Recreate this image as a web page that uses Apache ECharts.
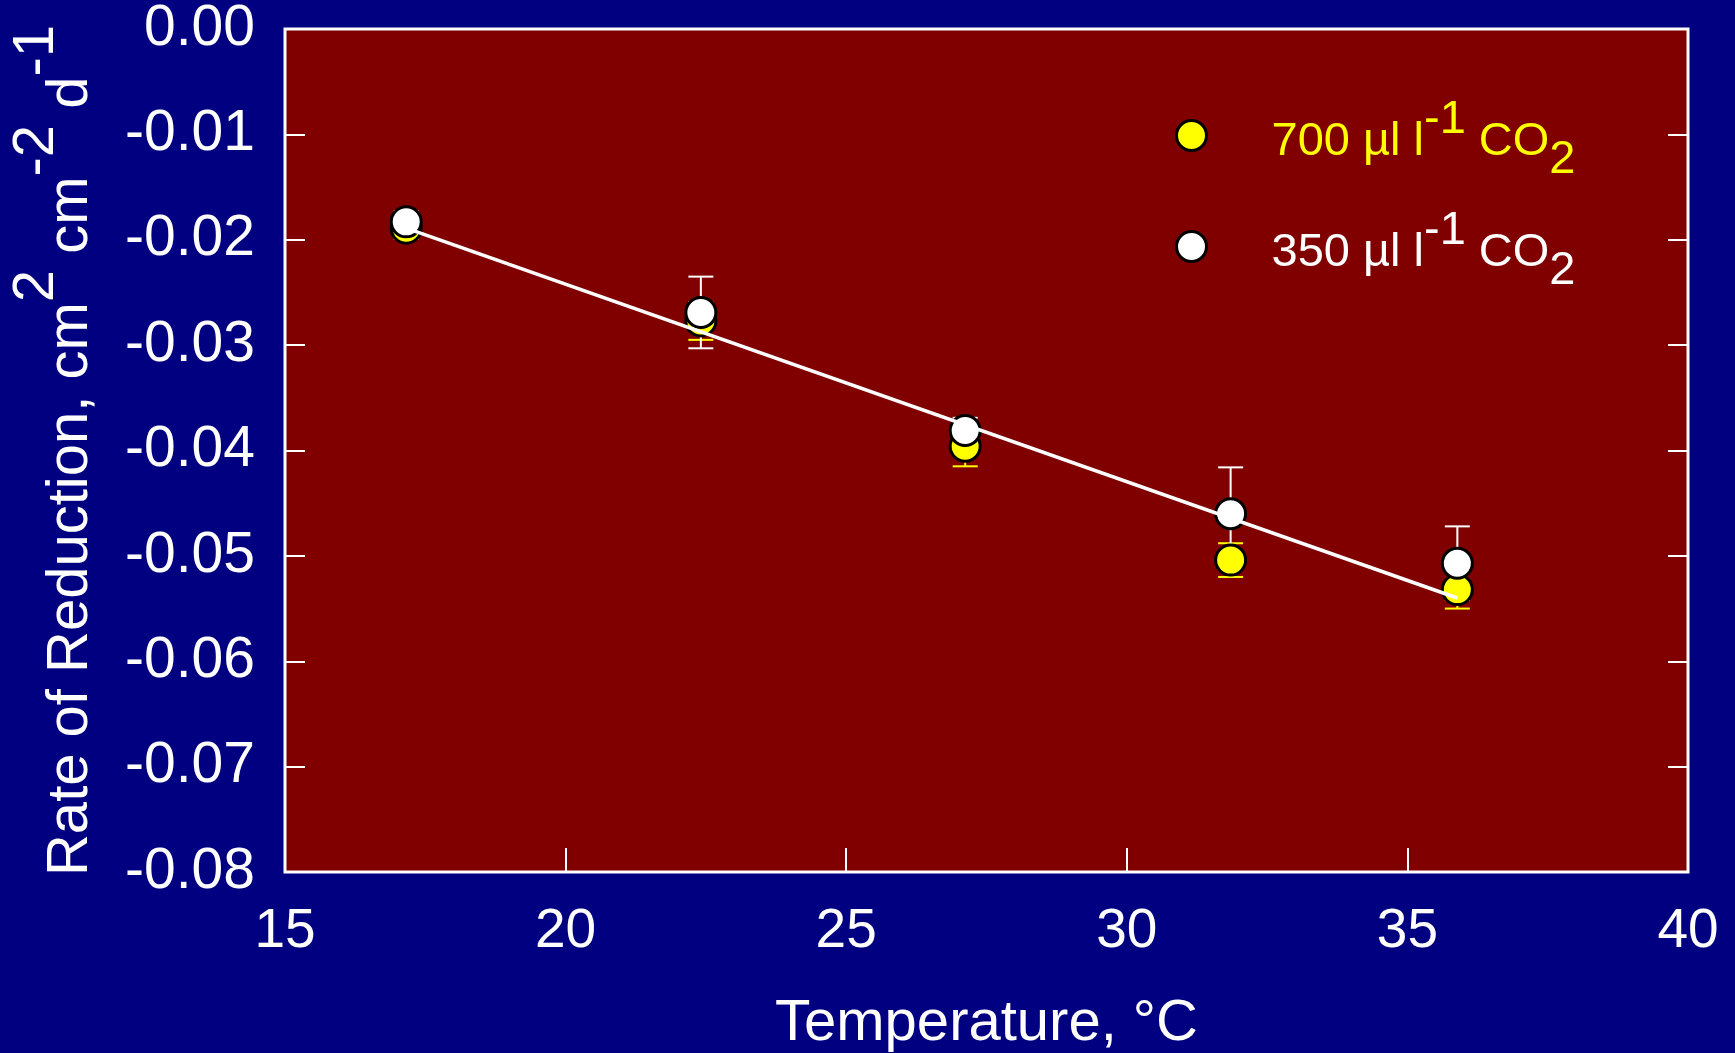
<!DOCTYPE html>
<html>
<head>
<meta charset="utf-8">
<title>Rate of Reduction vs Temperature</title>
<script src="https://cdn.jsdelivr.net/npm/echarts@6/dist/echarts.min.js"></script>
<style>
  html, body { margin: 0; padding: 0; background: #000080; }
  #chart { width: 1735px; height: 1053px; }
</style>
</head>
<body>
<div id="chart"></div>
<script>
// Measured temperatures (°C) shared by both CO2 treatments
const temperature = [17.16, 22.41, 27.12, 31.85, 35.89];

// 700 µl l-1 CO2: mean rate and error
const rate700 = [-0.0189, -0.0277, -0.0396, -0.0504, -0.0532];
const err700 = [0.0010, 0.0018, 0.0019, 0.0016, 0.0018];

// 350 µl l-1 CO2: mean rate and error
const rate350 = [-0.0183, -0.0269, -0.0381, -0.0460, -0.0507];
const err350 = [0.0010, 0.0034, 0.0012, 0.0044, 0.0035];

// Fitted regression line end points
const fitTemperature = [17.16, 35.89];
const fitRate = [-0.0189, -0.0540];

// Axis ticks
const xTicks = [15, 20, 25, 30, 35, 40];
const yTicks = [0, -0.01, -0.02, -0.03, -0.04, -0.05, -0.06, -0.07, -0.08];

const NAME_700 = '700 µl l-1 CO2';
const NAME_350 = '350 µl l-1 CO2';
const FONT = '"Liberation Sans", Arial, sans-serif';

function pairs(xs, ys) { return xs.map((x, i) => [x, ys[i]]); }
function errRows(xs, ys, es) { return xs.map((x, i) => [x, ys[i] - es[i], ys[i] + es[i]]); }

function errorBars(color) {
  return function (params, api) {
    const x = api.value(0);
    const lo = api.coord([x, api.value(1)]);
    const hi = api.coord([x, api.value(2)]);
    const half = 12.5;
    const style = { stroke: color, lineWidth: 2 };
    return {
      type: 'group',
      children: [
        { type: 'line', shape: { x1: hi[0], y1: hi[1], x2: lo[0], y2: lo[1] }, style: style },
        { type: 'line', shape: { x1: hi[0] - half, y1: hi[1], x2: hi[0] + half, y2: hi[1] }, style: style },
        { type: 'line', shape: { x1: lo[0] - half, y1: lo[1], x2: lo[0] + half, y2: lo[1] }, style: style }
      ]
    };
  };
}

// rich text styles with raised superscripts and lowered subscripts;
// the main text sits a little below the marker centre
function legendRich(key, color) {
  const base = { color: color, fontSize: 47, lineHeight: 47, fontFamily: FONT };
  const r = {};
  r['g' + key] = { width: 60, height: 10 };
  r['n' + key] = Object.assign({}, base, { padding: [14, 0, 0, 0] });
  r['p' + key] = Object.assign({}, base, { padding: [0, 0, 30, 0] });
  r['b' + key] = Object.assign({}, base, { padding: [50, 0, 0, 0] });
  return r;
}

const yNameBase = { color: '#ffffff', fontSize: 58, lineHeight: 58, fontFamily: FONT };

const chart = echarts.init(document.getElementById('chart'), null, { renderer: 'canvas' });

chart.setOption({
  backgroundColor: '#000080',
  animation: false,
  grid: {
    left: 285, top: 29, right: 47, bottom: 181,
    show: true,
    backgroundColor: '#800000',
    borderColor: '#ffffff',
    borderWidth: 3,
    outerBoundsMode: 'none'
  },
  legend: {
    orient: 'vertical',
    left: 1175,
    top: 87,
    padding: 0,
    itemGap: 14,
    itemWidth: 30,
    itemHeight: 30,
    icon: 'circle',
    selectedMode: false,
    itemStyle: { borderColor: '#000000', borderWidth: 3 },
    data: [
      { name: NAME_700, textStyle: { color: '#ffff00' } },
      { name: NAME_350, textStyle: { color: '#ffffff' } }
    ],
    formatter: function (name) {
      if (name === NAME_700) return '{gy|}{ny|700 µl l}{py|-1}{ny| CO}{by|2}';
      return '{gw|}{nw|350 µl l}{pw|-1}{nw| CO}{bw|2}';
    },
    textStyle: {
      fontFamily: FONT,
      fontSize: 47,
      rich: Object.assign({}, legendRich('y', '#ffff00'), legendRich('w', '#ffffff'))
    }
  },
  xAxis: {
    type: 'value',
    min: xTicks[0],
    max: xTicks[xTicks.length - 1],
    interval: 5,
    name: 'Temperature, °C',
    nameLocation: 'middle',
    nameGap: 123,
    nameTextStyle: { color: '#ffffff', fontSize: 58, fontFamily: FONT },
    axisLine: { show: false, onZero: false },
    axisTick: { show: true, inside: true, length: 24, lineStyle: { color: '#ffffff', width: 2 } },
    axisLabel: { color: '#ffffff', fontSize: 55, fontFamily: FONT, margin: 32 },
    splitLine: { show: false }
  },
  yAxis: [
    {
      type: 'value',
      min: yTicks[yTicks.length - 1],
      max: yTicks[0],
      interval: 0.01,
      name: '{n|Rate of Reduction, cm}{p|2}{n| cm}{p|-2}{n| d}{p|-1}',
      nameLocation: 'middle',
      nameRotate: 90,
      nameGap: 185,
      nameMoveOverlap: false,
      nameTextStyle: {
        color: '#ffffff',
        fontSize: 58,
        fontFamily: FONT,
        rich: {
          n: Object.assign({}, yNameBase),
          p: Object.assign({}, yNameBase, { padding: [0, 0, 68, 0] })
        }
      },
      axisLine: { show: false, onZero: false },
      axisTick: { show: true, inside: true, length: 20, lineStyle: { color: '#ffffff', width: 2 } },
      axisLabel: {
        color: '#ffffff', fontSize: 57, fontFamily: FONT, margin: 30,
        formatter: function (v) { return Math.abs(v) < 1e-9 ? '0.00' : v.toFixed(2); }
      },
      splitLine: { show: false }
    },
    {
      type: 'value',
      position: 'right',
      min: yTicks[yTicks.length - 1],
      max: yTicks[0],
      interval: 0.01,
      axisLine: { show: false, onZero: false },
      axisTick: { show: true, inside: true, length: 20, lineStyle: { color: '#ffffff', width: 2 } },
      axisLabel: { show: false },
      splitLine: { show: false }
    }
  ],
  series: [
    {
      name: 'fit',
      type: 'line',
      data: pairs(fitTemperature, fitRate),
      symbol: 'none',
      lineStyle: { color: '#ffffff', width: 3.5 },
      silent: true
    },
    {
      name: 'err700',
      type: 'custom',
      renderItem: errorBars('#ffff00'),
      encode: { x: 0, y: [1, 2] },
      data: errRows(temperature, rate700, err700),
      silent: true
    },
    {
      name: NAME_700,
      type: 'scatter',
      data: pairs(temperature, rate700),
      symbol: 'circle',
      symbolSize: 30,
      itemStyle: { color: '#ffff00', borderColor: '#000000', borderWidth: 3, opacity: 1 },
      emphasis: { disabled: true }
    },
    {
      name: 'err350',
      type: 'custom',
      renderItem: errorBars('#ffffff'),
      encode: { x: 0, y: [1, 2] },
      data: errRows(temperature, rate350, err350),
      silent: true
    },
    {
      name: NAME_350,
      type: 'scatter',
      data: pairs(temperature, rate350),
      symbol: 'circle',
      symbolSize: 30,
      itemStyle: { color: '#ffffff', borderColor: '#000000', borderWidth: 3, opacity: 1 },
      emphasis: { disabled: true }
    }
  ]
});
</script>
</body>
</html>
